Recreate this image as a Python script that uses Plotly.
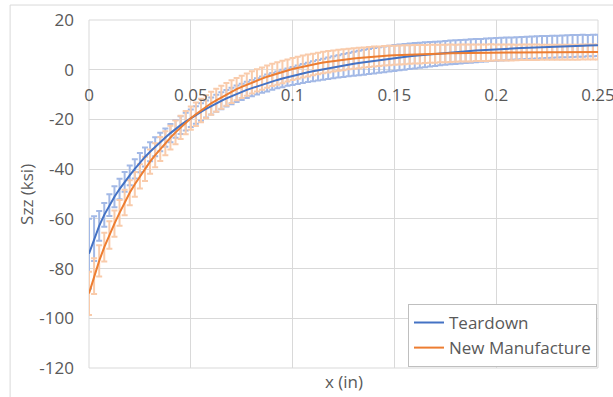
import plotly.graph_objects as go

# x positions (in)
x_in = [0.0, 0.0025, 0.005, 0.0075, 0.01, 0.0125, 0.015, 0.0175, 0.02, 0.0225, 0.025, 0.0275,
        0.03, 0.0325, 0.035, 0.0375, 0.04, 0.0425, 0.045, 0.0475, 0.05, 0.0525, 0.055, 0.0575,
        0.06, 0.0625, 0.065, 0.0675, 0.07, 0.0725, 0.075, 0.0775, 0.08, 0.0825, 0.085, 0.0875,
        0.09, 0.0925, 0.095, 0.0975, 0.1, 0.1025, 0.105, 0.1075, 0.11, 0.1125, 0.115, 0.1175,
        0.12, 0.1225, 0.125, 0.1275, 0.13, 0.1325, 0.135, 0.1375, 0.14, 0.1425, 0.145, 0.1475,
        0.15, 0.1525, 0.155, 0.1575, 0.16, 0.1625, 0.165, 0.1675, 0.17, 0.1725, 0.175, 0.1775,
        0.18, 0.1825, 0.185, 0.1875, 0.19, 0.1925, 0.195, 0.1975, 0.2, 0.2025, 0.205, 0.2075,
        0.21, 0.2125, 0.215, 0.2175, 0.22, 0.2225, 0.225, 0.2275, 0.23, 0.2325, 0.235, 0.2375,
        0.24, 0.2425, 0.245, 0.2475, 0.25]

teardown = [-74.0,
            -68.0, -62.8, -58.4, -54.5,
            -51.1, -48.0, -45.1, -42.5,
            -39.9, -37.4, -35.1, -33.0,
            -31.0, -29.1, -27.3, -25.5,
            -23.8, -22.3, -20.9, -19.5,
            -18.2, -17.0, -15.8, -14.6,
            -13.5, -12.5, -11.5, -10.6,
            -9.7, -8.9, -8.1, -7.4,
            -6.7, -6.0, -5.35, -4.7,
            -4.1, -3.55, -3.0, -2.5,
            -2.0, -1.5, -1.05, -0.6,
            -0.2, 0.2, 0.6, 1.0,
            1.35, 1.7, 2.05, 2.4,
            2.7, 3.0, 3.3, 3.6,
            3.9, 4.15, 4.45, 4.7,
            4.95, 5.15, 5.4, 5.6,
            5.8, 6.0, 6.2, 6.4,
            6.6, 6.75, 6.95, 7.1,
            7.25, 7.4, 7.55, 7.7,
            7.8, 7.95, 8.1, 8.2,
            8.3, 8.4, 8.5, 8.6,
            8.7, 8.8, 8.9, 9.0,
            9.1, 9.15, 9.25, 9.3,
            9.4, 9.45, 9.55, 9.6,
            9.65, 9.7, 9.75, 9.8]

teardown_err = [14.0,
                9.0, 6.0, 4.8, 4.4,
                4.2, 4.1, 4.0, 4.0,
                3.9, 3.9, 3.8, 3.8,
                3.8, 3.7, 3.7, 3.7,
                3.6, 3.6, 3.6, 3.5,
                3.5, 3.5, 3.4, 3.4,
                3.4, 3.4, 3.3, 3.3,
                3.3, 3.3, 3.3, 3.3,
                3.3, 3.3, 3.4, 3.4,
                3.4, 3.5, 3.5, 3.6,
                3.7, 3.8, 3.9, 4.0,
                4.1, 4.2, 4.3, 4.4,
                4.5, 4.6, 4.7, 4.8,
                4.9, 5.0, 5.0, 5.1,
                5.1, 5.2, 5.2, 5.2,
                5.2, 5.2, 5.1, 5.1,
                5.0, 5.0, 4.9, 4.9,
                4.8, 4.8, 4.8, 4.8,
                4.7, 4.7, 4.7, 4.7,
                4.6, 4.6, 4.6, 4.6,
                4.6, 4.6, 4.5, 4.5,
                4.5, 4.5, 4.5, 4.5,
                4.5, 4.4, 4.4, 4.4,
                4.4, 4.4, 4.4, 4.4,
                4.4, 4.3, 4.3, 4.3]

new_manufacture = [-90.0,
                   -83.0, -76.9, -71.4, -66.5,
                   -61.9, -57.6, -53.4, -49.5,
                   -46.1, -42.9, -39.9, -37.0,
                   -34.4, -31.9, -29.6, -27.3,
                   -25.2, -23.2, -21.3, -19.5,
                   -17.9, -16.4, -14.9, -13.5,
                   -12.3, -11.1, -9.9, -8.8,
                   -7.8, -6.9, -6.0, -5.1,
                   -4.3, -3.6, -2.8, -2.1,
                   -1.5, -0.9, -0.3, 0.3,
                   0.8, 1.3, 1.7, 2.1,
                   2.5, 2.9, 3.2, 3.5,
                   3.8, 4.0, 4.3, 4.5,
                   4.7, 4.9, 5.1, 5.3,
                   5.4, 5.6, 5.7, 5.8,
                   5.9, 6.0, 6.1, 6.2,
                   6.25, 6.3, 6.4, 6.45,
                   6.5, 6.55, 6.6, 6.65,
                   6.7, 6.7, 6.75, 6.8,
                   6.8, 6.85, 6.9, 6.9,
                   6.9, 6.95, 6.95, 6.95,
                   7.0, 7.0, 7.0, 7.0,
                   7.0, 7.05, 7.05, 7.05,
                   7.05, 7.05, 7.05, 7.05,
                   7.1, 7.1, 7.1, 7.1]

new_manufacture_err = [8.7,
                       7.2, 6.3, 5.8, 5.5,
                       5.3, 5.2, 5.1, 5.0,
                       5.0, 4.9, 4.9, 4.9,
                       4.8, 4.8, 4.8, 4.8,
                       4.8, 4.7, 4.7, 4.7,
                       4.7, 4.7, 4.6, 4.6,
                       4.6, 4.6, 4.6, 4.6,
                       4.5, 4.5, 4.5, 4.5,
                       4.5, 4.5, 4.5, 4.5,
                       4.5, 4.5, 4.4, 4.4,
                       4.4, 4.4, 4.4, 4.3,
                       4.3, 4.3, 4.3, 4.2,
                       4.2, 4.2, 4.1, 4.1,
                       4.1, 4.0, 4.0, 4.0,
                       3.9, 3.9, 3.9, 3.8,
                       3.8, 3.8, 3.7, 3.7,
                       3.7, 3.6, 3.6, 3.6,
                       3.5, 3.5, 3.5, 3.4,
                       3.4, 3.4, 3.4, 3.3,
                       3.3, 3.3, 3.3, 3.2,
                       3.2, 3.2, 3.2, 3.1,
                       3.1, 3.1, 3.1, 3.1,
                       3.0, 3.0, 3.0, 3.0,
                       3.0, 3.0, 3.0, 3.0,
                       3.0, 3.0, 3.0, 3.0]

x_tick_vals = [0, 0.05, 0.1, 0.15, 0.2, 0.25]
x_tick_text = ["0", "0.05", "0.1", "0.15", "0.2", "0.25"]
y_tick_vals = [-120, -100, -80, -60, -40, -20, 0, 20]
y_tick_text = ["-120", "-100", "-80", "-60", "-40", "-20", "0", "20"]

BLUE = "#4472C4"
ORANGE = "#ED7D31"
BLUE_ERR = "#A3B9E6"
ORANGE_ERR = "#F9CBAB"
GRID = "#D9D9D9"
TEXT = "#595959"
FONT = "Open Sans"
FS = 17

fig = go.Figure()

fig.add_trace(go.Scatter(
    x=x_in, y=teardown, mode="markers",
    marker=dict(size=1, color="rgba(0,0,0,0)"),
    error_y=dict(type="data", array=teardown_err, visible=True,
                 color=BLUE_ERR, thickness=2, width=3),
    showlegend=False, hoverinfo="skip"))

fig.add_trace(go.Scatter(
    x=x_in, y=new_manufacture, mode="markers",
    marker=dict(size=1, color="rgba(0,0,0,0)"),
    error_y=dict(type="data", array=new_manufacture_err, visible=True,
                 color=ORANGE_ERR, thickness=2, width=3),
    showlegend=False, hoverinfo="skip"))

fig.add_trace(go.Scatter(
    x=x_in, y=teardown, mode="lines", name="Teardown",
    line=dict(color=BLUE, width=2)))

fig.add_trace(go.Scatter(
    x=x_in, y=new_manufacture, mode="lines", name="New Manufacture",
    line=dict(color=ORANGE, width=2)))

fig.update_layout(
    width=613, height=397,
    margin=dict(l=89, r=15, t=20, b=29, autoexpand=False),
    paper_bgcolor="white", plot_bgcolor="white",
    font=dict(family=FONT, size=FS, color=TEXT),
    xaxis=dict(range=[0, 0.25], tickvals=x_tick_vals, ticktext=x_tick_text,
               showgrid=True, gridcolor=GRID, gridwidth=1, zeroline=False,
               showline=False, ticks="", anchor="free", position=120 / 140,
               ticklabelstandoff=13, ticklabeloverflow="allow", automargin=False,
               tickfont=dict(family=FONT, size=FS, color=TEXT)),
    yaxis=dict(range=[-120, 20], tickvals=y_tick_vals, ticktext=y_tick_text,
               showgrid=True, gridcolor=GRID, gridwidth=1, zeroline=False,
               showline=False, ticks="", ticklabelstandoff=14, automargin=False,
               tickfont=dict(family=FONT, size=FS, color=TEXT)),
    legend=dict(x=0.998, y=0.003, xanchor="right", yanchor="bottom",
                bgcolor="white", bordercolor="#BFBFBF", borderwidth=1,
                font=dict(family=FONT, size=FS, color=TEXT),
                itemwidth=30, tracegroupgap=0),
    shapes=[
        dict(type="rect", xref="paper", yref="paper", x0=0, y0=0, x1=1, y1=1,
             line=dict(color=GRID, width=1), layer="below"),
        dict(type="rect", xref="paper", yref="paper", x0=-0.155, y0=-0.2,
             x1=1.2, y1=1.043, line=dict(color=GRID, width=1), layer="below"),
    ],
    annotations=[
        dict(text="x (in)", xref="paper", yref="paper", x=0.5, y=-0.04,
             xanchor="center", yanchor="middle", showarrow=False,
             font=dict(family=FONT, size=FS, color=TEXT)),
        dict(text="Szz (ksi)", xref="paper", yref="paper", x=-0.124, y=0.5,
             xanchor="center", yanchor="middle", textangle=-90, showarrow=False,
             font=dict(family=FONT, size=FS, color=TEXT)),
    ],
)

fig.write_html("out.html")
